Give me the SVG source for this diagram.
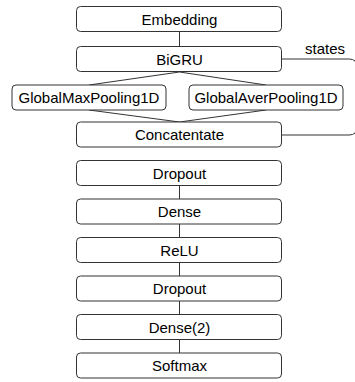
<svg xmlns="http://www.w3.org/2000/svg" width="355" height="382" viewBox="0 0 355 382">
<style>
.box{fill:#fff;stroke:#333;stroke-width:1}
.lbl{font-family:"Liberation Sans",Arial,sans-serif;font-size:15px;fill:#000;text-anchor:middle}
.edge{fill:none;stroke:#333;stroke-width:1}
</style>
<rect width="355" height="382" fill="#fff"/>
<g id="connectors">
<line class="edge" x1="179.5" y1="31.5" x2="179.5" y2="46.5"/>
<line class="edge" x1="179.5" y1="72" x2="89" y2="85"/>
<line class="edge" x1="179.5" y1="72" x2="266" y2="85"/>
<line class="edge" x1="89" y1="110" x2="179.5" y2="122"/>
<line class="edge" x1="266" y1="110" x2="179.5" y2="122"/>
<path class="edge" d="M282,59 H349 Q357,59 357,67 V127 Q357,135 349,135 H282"/>
<line class="edge" x1="179.5" y1="185.5" x2="179.5" y2="199"/>
<line class="edge" x1="179.5" y1="224" x2="179.5" y2="237.5"/>
<line class="edge" x1="179.5" y1="262.5" x2="179.5" y2="276"/>
<line class="edge" x1="179.5" y1="301" x2="179.5" y2="314.5"/>
<line class="edge" x1="179.5" y1="339.5" x2="179.5" y2="353"/>
</g>
<text class="lbl" x="325" y="54">states</text>
<g id="embedding"><rect class="box" x="76.5" y="6.5" width="205" height="25" rx="4"/><text class="lbl" x="179.5" y="24.5">Embedding</text></g>
<g id="bigru"><rect class="box" x="76.5" y="46.5" width="205" height="25" rx="4"/><text class="lbl" x="179.5" y="64.5">BiGRU</text></g>
<g id="maxpool"><rect class="box" x="12" y="85" width="154" height="25" rx="4"/><text class="lbl" x="89" y="103">GlobalMaxPooling1D</text></g>
<g id="avgpool"><rect class="box" x="189" y="85" width="154" height="25" rx="4"/><text class="lbl" x="266" y="103">GlobalAverPooling1D</text></g>
<g id="concat"><rect class="box" x="76.5" y="122" width="205" height="25" rx="4"/><text class="lbl" x="179.5" y="140">Concatentate</text></g>
<g id="dropout1"><rect class="box" x="76.5" y="160.5" width="205" height="25" rx="4"/><text class="lbl" x="179.5" y="178.5">Dropout</text></g>
<g id="dense1"><rect class="box" x="76.5" y="199" width="205" height="25" rx="4"/><text class="lbl" x="179.5" y="217">Dense</text></g>
<g id="relu"><rect class="box" x="76.5" y="237.5" width="205" height="25" rx="4"/><text class="lbl" x="179.5" y="255.5">ReLU</text></g>
<g id="dropout2"><rect class="box" x="76.5" y="276" width="205" height="25" rx="4"/><text class="lbl" x="179.5" y="294">Dropout</text></g>
<g id="dense2"><rect class="box" x="76.5" y="314.5" width="205" height="25" rx="4"/><text class="lbl" x="179.5" y="332.5">Dense(2)</text></g>
<g id="softmax"><rect class="box" x="76.5" y="353" width="205" height="25" rx="4"/><text class="lbl" x="179.5" y="371">Softmax</text></g>
</svg>
